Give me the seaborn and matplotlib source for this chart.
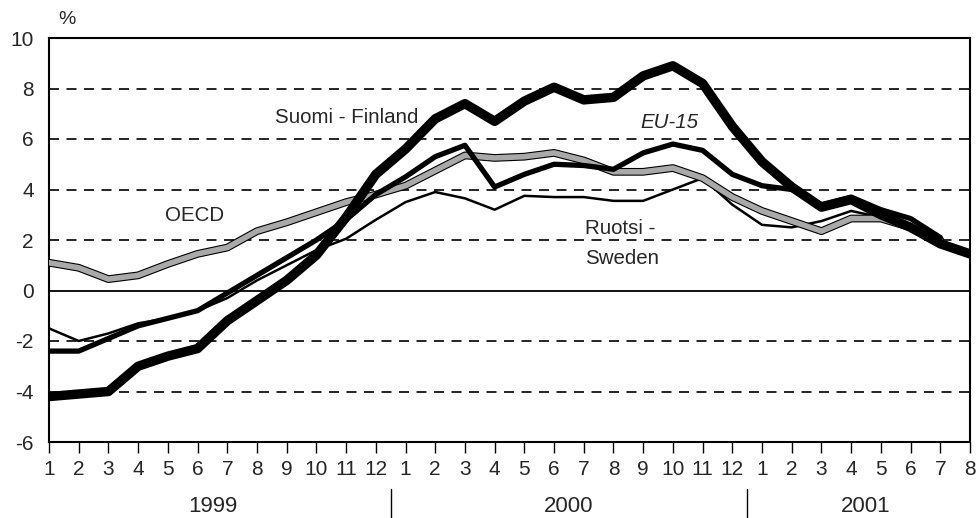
import numpy as np
import pandas as pd
import matplotlib
matplotlib.use("Agg")
import matplotlib.pyplot as plt
import matplotlib.patheffects as pe
import matplotlib.transforms as mtransforms
import seaborn as sns

# ---------------- data ----------------
month_labels = [str(m) for m in range(1, 13)] * 2 + [str(m) for m in range(1, 9)]
years = ["1999", "2000", "2001"]

finland = [-4.2, -4.1, -4.0, -3.0, -2.6, -2.3, -1.2, -0.4, 0.4, 1.4, 2.9, 4.6,
           5.6, 6.8, 7.4, 6.7, 7.5, 8.05, 7.55, 7.65, 8.5, 8.9, 8.2, 6.5,
           5.1, 4.1, 3.3, 3.6, 3.0, 2.5, 1.85, 1.45]
eu15 = [-2.4, -2.4, -1.9, -1.4, -1.1, -0.8, -0.1, 0.6, 1.3, 2.0, 2.8, 3.8,
        4.5, 5.3, 5.75, 4.1, 4.6, 5.0, 4.95, 4.8, 5.45, 5.8, 5.55, 4.6,
        4.15, 4.0, 3.4, 3.7, 3.2, 2.85, 2.1]
sweden = [-1.5, -2.0, -1.7, -1.3, -1.1, -0.8, -0.3, 0.4, 1.0, 1.6, 2.05, 2.8,
          3.5, 3.9, 3.65, 3.2, 3.75, 3.7, 3.7, 3.55, 3.55, 4.0, 4.45, 3.4,
          2.6, 2.5, 2.75, 3.15, 2.9, 2.5, 2.0]
oecd = [1.1, 0.9, 0.45, 0.6, 1.05, 1.45, 1.7, 2.35, 2.7, 3.1, 3.5, 3.8,
        4.15, 4.75, 5.35, 5.25, 5.3, 5.45, 5.15, 4.7, 4.7, 4.85, 4.45, 3.7,
        3.15, 2.75, 2.35, 2.85, 2.85, 2.5, 2.0]

# ---------------- style ----------------
sns.set_style("white")
plt.rcParams["font.family"] = ["Liberation Sans", "DejaVu Sans"]

fig = plt.figure(figsize=(9.79, 5.18), dpi=100)
ax = fig.add_axes([49 / 979, 1 - 442 / 518, (970 - 49) / 979, (442 - 38) / 518])

# grid lines
for v in [-4, -2, 2, 4, 6, 8]:
    ax.axhline(v, color="black", lw=1.2, ls=(0, (6, 4.5)), zorder=1)
ax.axhline(0, color="black", lw=1.3, zorder=1)

def draw(vals, **kw):
    df = pd.DataFrame({"t": np.arange(len(vals)), "v": vals})
    sns.lineplot(data=df, x="t", y="v", ax=ax, **kw)

draw(sweden, color="black", lw=1.8, zorder=3)
draw(oecd, color="#a9a9a9", lw=4.0, zorder=4,
     path_effects=[pe.Stroke(linewidth=5.6, foreground="black"), pe.Normal()])
draw(eu15, color="black", lw=3.8, zorder=5)
draw(finland, color="black", lw=6.8, zorder=6, solid_capstyle="round")

ax.set_xlim(0, 31)
ax.set_ylim(-6, 10)
ax.set_xlabel("")
ax.set_ylabel("")

tick_fs = 15
ax.set_yticks(np.arange(-6, 11, 2))
ax.set_yticklabels([str(v) for v in range(-6, 11, 2)], fontsize=tick_fs)
ax.set_xticks(np.arange(len(month_labels)))
ax.set_xticklabels(month_labels, fontsize=tick_fs)
ax.tick_params(axis="y", length=0, pad=11)
ax.tick_params(axis="x", length=8, width=1, direction="out", pad=5, color="black")
ax.xaxis.set_ticks_position("bottom")

for s in ax.spines.values():
    s.set_visible(True)
    s.set_color("black")
    s.set_linewidth(1.5)

# year labels and separators
trans = mtransforms.blended_transform_factory(ax.transData, ax.transAxes)
for x0, yr in zip([5.5, 17.5, 27.5], years):
    ax.text(x0, -0.16, yr, transform=trans, ha="center", va="center", fontsize=16)
for xs in [11.5, 23.5]:
    ax.plot([xs, xs], [-0.117, -0.19], transform=trans, color="black", lw=1,
            clip_on=False)

ax.text(0.6, 10.75, "%", fontsize=14, ha="center", va="center")

# series labels
lab_fs = 14.8
ax.text(7.6, 6.85, "Suomi - Finland", fontsize=lab_fs, ha="left", va="center")
ax.text(19.9, 6.65, "EU-15", fontsize=lab_fs, ha="left", va="center", style="italic")
ax.text(3.9, 2.96, "OECD", fontsize=lab_fs, ha="left", va="center")
ax.text(18.05, 2.45, "Ruotsi -", fontsize=lab_fs, ha="left", va="center")
ax.text(18.05, 1.25, "Sweden", fontsize=lab_fs, ha="left", va="center")

fig.savefig("out.png", dpi=100)
